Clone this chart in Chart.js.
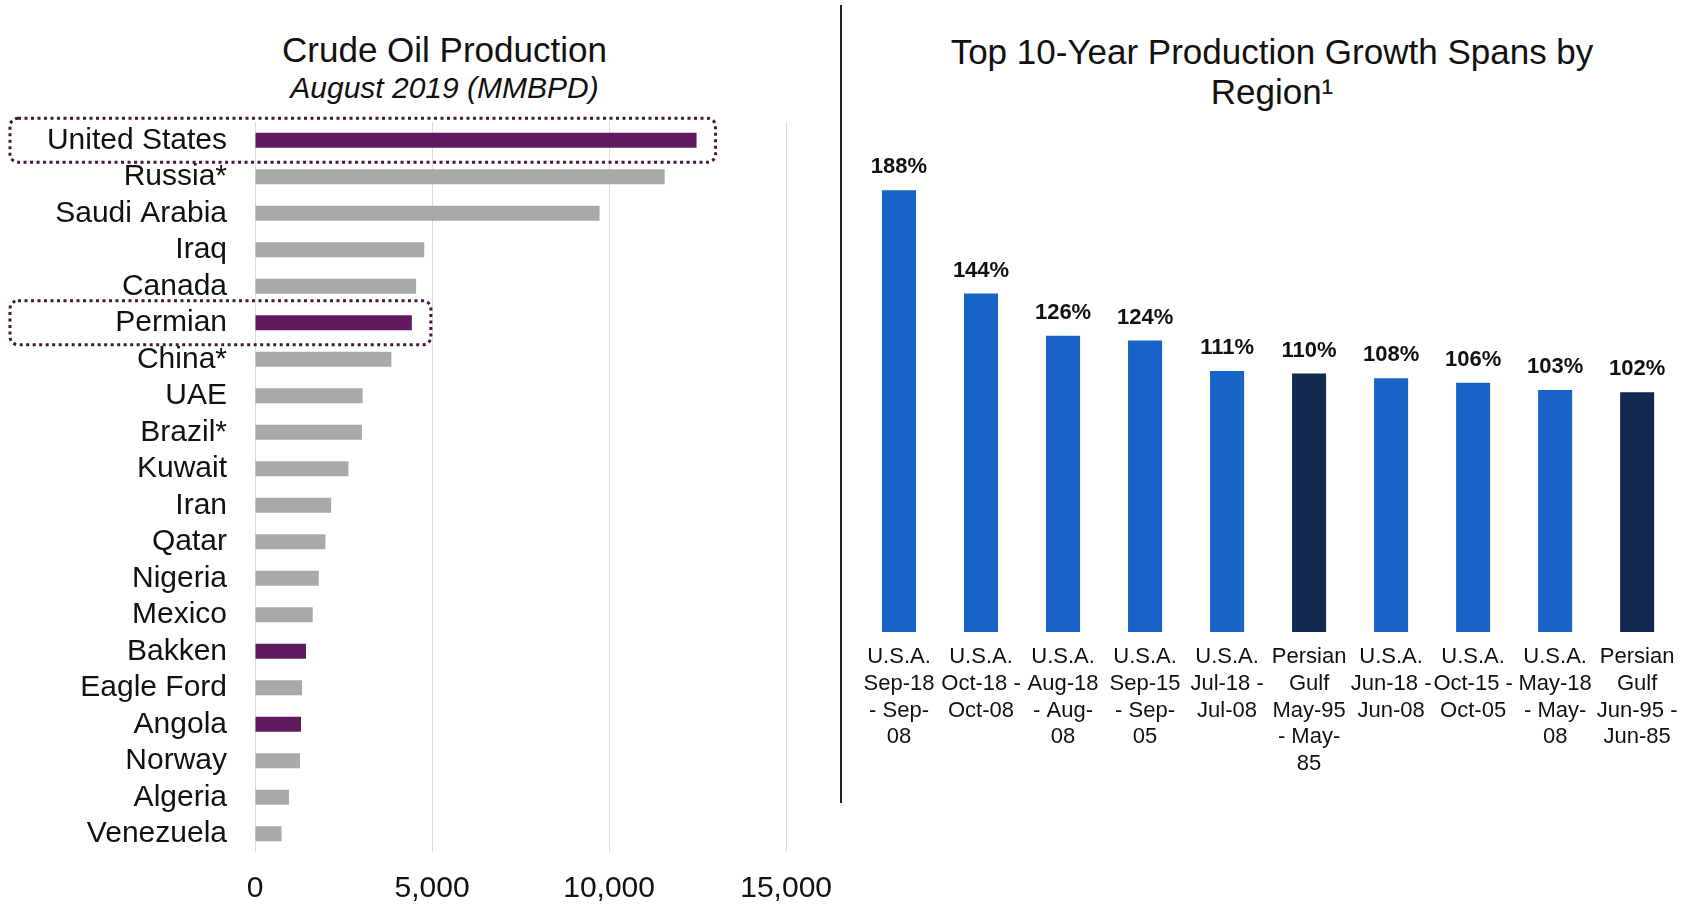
<!DOCTYPE html>
<html>
<head>
<meta charset="utf-8">
<script src="https://cdn.jsdelivr.net/npm/chart.js@4.4.1/dist/chart.umd.min.js"></script>
<style>
  html, body { margin: 0; padding: 0; background: #fff; overflow: hidden; }
  body { width: 1690px; height: 905px; position: relative; font-family: "Liberation Sans", Arial, sans-serif; color: #111; }
  .title { position: absolute; text-align: center; white-space: nowrap; }
  #leftTitle { left: 0; width: 889px; top: 30px; font-size: 35px; line-height: 40px; }
  #leftSub { left: 0; width: 889px; top: 70px; font-size: 30px; line-height: 36px; font-style: italic; }
  #rightTitle { left: 852px; width: 840px; top: 32px; font-size: 35px; line-height: 40px; }
  #divider { position: absolute; left: 840px; top: 5px; width: 2px; height: 798px; background: #222; }
  #oilChart { position: absolute; left: 0; top: 0; }
  #growthChart { position: absolute; left: 845px; top: 0; }
</style>
</head>
<body>
<div class="title" id="leftTitle">Crude Oil Production</div>
<div class="title" id="leftSub">August 2019 (MMBPD)</div>
<div class="title" id="rightTitle">Top 10-Year Production Growth Spans by<br>Region¹</div>
<div id="divider"></div>
<canvas id="oilChart" width="851" height="905"></canvas>
<canvas id="growthChart" width="845" height="905"></canvas>
<script>
// --- crude oil production, thousand barrels per day ---
const countries = ['United States', 'Russia*', 'Saudi Arabia', 'Iraq', 'Canada', 'Permian', 'China*', 'UAE', 'Brazil*', 'Kuwait',
  'Iran', 'Qatar', 'Nigeria', 'Mexico', 'Bakken', 'Eagle Ford', 'Angola', 'Norway', 'Algeria', 'Venezuela'];
const production = [12470, 11570, 9730, 4780, 4550, 4430, 3850, 3040, 3020, 2640,
  2150, 1990, 1800, 1630, 1440, 1330, 1300, 1270, 960, 750];
const highlighted = ['United States', 'Permian', 'Bakken', 'Angola'];
const boxed = ['United States', 'Permian'];
const productionTicks = [0, 5000, 10000, 15000];

// --- top 10-year growth spans ---
const spanLabels = [
  ['U.S.A.', 'Sep-18', '- Sep-', '08'],
  ['U.S.A.', 'Oct-18 -', 'Oct-08'],
  ['U.S.A.', 'Aug-18', '- Aug-', '08'],
  ['U.S.A.', 'Sep-15', '- Sep-', '05'],
  ['U.S.A.', 'Jul-18 -', 'Jul-08'],
  ['Persian', 'Gulf', 'May-95', '- May-', '85'],
  ['U.S.A.', 'Jun-18 -', 'Jun-08'],
  ['U.S.A.', 'Oct-15 -', 'Oct-05'],
  ['U.S.A.', 'May-18', '- May-', '08'],
  ['Persian', 'Gulf', 'Jun-95 -', 'Jun-85']
];
const spanGrowth = [188, 144, 126, 124, 111, 110, 108, 106, 103, 102];
const spanRegion = ['usa', 'usa', 'usa', 'usa', 'usa', 'gulf', 'usa', 'usa', 'usa', 'gulf'];

const PURPLE = '#5e1a5c';
const GRAY = '#a7aaa9';
const BLUE = '#1763c6';
const NAVY = '#11294f';

Chart.defaults.font.family = '"Liberation Sans", Arial, sans-serif';
Chart.defaults.color = '#111';

// dotted rounded frame around a row and its bar
const dottedBoxes = {
  id: 'dottedBoxes',
  afterDatasetsDraw(chart) {
    const { ctx, scales: { x, y } } = chart;
    ctx.save();
    ctx.strokeStyle = '#45163f';
    ctx.lineWidth = 3;
    ctx.setLineDash([3, 3.5]);
    boxed.forEach(name => {
      const i = countries.indexOf(name);
      const cy = y.getPixelForValue(i);
      const right = x.getPixelForValue(production[i]) + 19;
      ctx.beginPath();
      ctx.roundRect(10, cy - 22, right - 10, 44, 8);
      ctx.stroke();
    });
    ctx.restore();
  }
};

// percentage above each column
const valueLabels = {
  id: 'valueLabels',
  afterDatasetsDraw(chart) {
    const { ctx } = chart;
    const meta = chart.getDatasetMeta(0);
    ctx.save();
    ctx.font = 'bold 22px "Liberation Sans", Arial, sans-serif';
    ctx.fillStyle = '#111';
    ctx.textAlign = 'center';
    ctx.textBaseline = 'middle';
    meta.data.forEach((bar, i) => {
      ctx.fillText(spanGrowth[i] + '%', bar.x, bar.y - 23);
    });
    ctx.restore();
  }
};

new Chart(document.getElementById('oilChart'), {
  type: 'bar',
  data: {
    labels: countries,
    datasets: [{
      data: production,
      backgroundColor: countries.map(c => highlighted.includes(c) ? PURPLE : GRAY),
      categoryPercentage: 1,
      barPercentage: 0.41
    }]
  },
  options: {
    indexAxis: 'y',
    responsive: false,
    animation: false,
    layout: { padding: { left: 0, right: 0, top: 122, bottom: 0 } },
    plugins: { legend: { display: false }, tooltip: { enabled: false } },
    scales: {
      x: {
        min: 0,
        max: 15000,
        afterBuildTicks: s => { s.ticks = productionTicks.map(v => ({ value: v })); },
        afterFit: s => { s.height = 53; },
        ticks: {
          font: { size: 30 },
          padding: 19,
          callback: v => v.toLocaleString('en-US')
        },
        grid: { color: '#dcdcdc', drawTicks: false },
        border: { display: false }
      },
      y: {
        afterFit: s => { s.width = 255; },
        ticks: { font: { size: 30 }, padding: 28, autoSkip: false },
        grid: { display: false, drawTicks: false },
        border: { display: false }
      }
    }
  },
  plugins: [dottedBoxes]
});

new Chart(document.getElementById('growthChart'), {
  type: 'bar',
  data: {
    labels: spanLabels,
    datasets: [{
      data: spanGrowth,
      backgroundColor: spanRegion.map(r => r === 'gulf' ? NAVY : BLUE),
      categoryPercentage: 1,
      barPercentage: 0.415
    }]
  },
  options: {
    responsive: false,
    animation: false,
    layout: { padding: { left: 13, right: 10, top: 162, bottom: 116 } },
    plugins: { legend: { display: false }, tooltip: { enabled: false } },
    scales: {
      x: {
        ticks: { font: { size: 22, lineHeight: 1.21 }, padding: 12, autoSkip: false, maxRotation: 0 },
        grid: { display: false, drawTicks: false },
        border: { display: false }
      },
      y: { display: false, min: 0, max: 200 }
    }
  },
  plugins: [valueLabels]
});
</script>
</body>
</html>
